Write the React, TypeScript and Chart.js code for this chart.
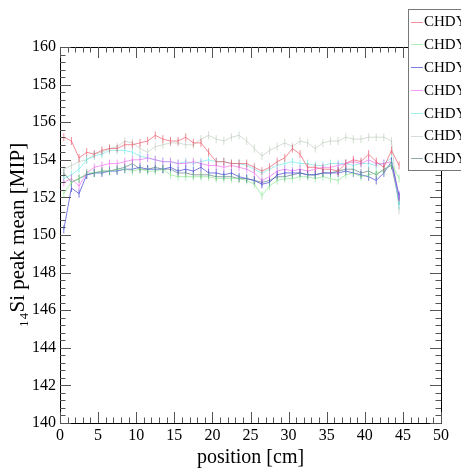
import React, { useEffect, useRef } from "react";
import { Chart, registerables } from "chart.js";

Chart.register(...registerables);

const positions = [0.5, 1.5, 2.5, 3.5, 4.5, 5.5, 6.5, 7.5, 8.5, 9.5, 10.5, 11.5, 12.5, 13.5, 14.5, 15.5, 16.5, 17.5, 18.5, 19.5, 20.5, 21.5, 22.5, 23.5, 24.5, 25.5, 26.5, 27.5, 28.5, 29.5, 30.5, 31.5, 32.5, 33.5, 34.5, 35.5, 36.5, 37.5, 38.5, 39.5, 40.5, 41.5, 42.5, 43.5, 44.5];

const seriesNames = ["CHDY_1", "CHDY_2", "CHDY_3", "CHDY_4", "CHDY_5", "CHDY_6", "CHDY_7"];

const redVals = [155.2, 155.0, 154.1, 154.4, 154.3, 154.5, 154.6, 154.6, 154.8, 154.8, 154.9, 155.0, 155.3, 155.1, 155.0, 155.0, 155.2, 154.9, 154.9, 154.4, 153.9, 153.9, 153.8, 153.8, 153.8, 153.6, 153.4, 153.6, 153.9, 154.1, 154.6, 154.3, 153.6, 153.6, 153.5, 153.5, 153.4, 153.8, 154.0, 153.9, 154.3, 153.9, 153.6, 154.5, 153.7];
const greenVals = [152.2, 152.8, 153.0, 153.3, 153.3, 153.4, 153.4, 153.5, 153.5, 153.4, 153.5, 153.4, 153.4, 153.5, 153.2, 153.1, 153.1, 153.1, 153.1, 153.1, 153.0, 153.0, 153.0, 153.0, 152.9, 152.7, 152.1, 152.6, 152.9, 153.0, 153.0, 153.1, 153.1, 153.0, 153.1, 153.0, 152.9, 153.2, 153.3, 153.1, 153.2, 153.3, 153.4, 153.8, 153.0];
const blueVals = [150.3, 152.5, 152.2, 153.2, 153.3, 153.3, 153.4, 153.4, 153.5, 153.5, 153.6, 153.5, 153.5, 153.5, 153.6, 153.4, 153.5, 153.4, 153.6, 153.3, 153.3, 153.2, 153.3, 153.1, 153.0, 152.9, 152.7, 152.8, 153.2, 153.3, 153.3, 153.3, 153.2, 153.2, 153.3, 153.3, 153.3, 153.4, 153.3, 153.2, 153.1, 152.9, 153.3, 153.9, 152.1];
const magentaVals = [152.8, 153.0, 152.6, 153.3, 153.6, 153.7, 153.8, 153.8, 153.9, 154.0, 154.0, 154.1, 154.0, 153.9, 153.9, 153.8, 153.8, 153.9, 153.8, 153.7, 153.7, 153.6, 153.7, 153.6, 153.5, 153.3, 152.9, 153.1, 153.4, 153.5, 153.4, 153.5, 153.4, 153.5, 153.6, 153.6, 153.7, 153.8, 153.9, 153.8, 154.0, 153.8, 153.8, 153.9, 152.0];
const cyanVals = [153.0, 153.2, 153.5, 154.0, 154.2, 154.3, 154.5, 154.5, 154.5, 154.4, 154.2, 154.1, 154.0, 153.9, 153.9, 153.8, 153.9, 153.8, 153.9, 154.0, 153.9, 153.9, 153.8, 153.8, 153.7, 153.5, 153.3, 153.5, 153.7, 153.8, 153.9, 153.8, 153.8, 153.7, 153.7, 153.8, 153.8, 153.8, 153.7, 153.8, 153.8, 153.7, 153.8, 154.1, 151.6];
const greyVals = [153.5, 153.7, 153.9, 154.0, 154.3, 154.4, 154.6, 154.7, 155.0, 154.9, 154.6, 154.4, 154.7, 154.8, 154.9, 154.9, 154.8, 154.8, 155.1, 155.3, 155.1, 155.0, 155.2, 155.3, 155.0, 154.6, 154.2, 154.5, 154.7, 154.9, 154.7, 155.0, 154.9, 154.6, 154.9, 155.0, 155.0, 155.2, 155.1, 155.1, 155.2, 155.2, 155.2, 155.0, 151.3];
const tealVals = [153.3, 152.8, 153.0, 153.2, 153.3, 153.4, 153.4, 153.5, 153.6, 153.8, 153.5, 153.5, 153.6, 153.5, 153.5, 153.3, 153.3, 153.2, 153.2, 153.2, 153.1, 153.1, 153.1, 153.0, 153.0, 152.9, 152.8, 152.9, 153.1, 153.1, 153.2, 153.3, 153.2, 153.2, 153.3, 153.3, 153.4, 153.5, 153.5, 153.3, 153.4, 153.2, 153.5, 153.7, 151.8];

const allSeries = [redVals, greenVals, blueVals, magentaVals, cyanVals, greyVals, tealVals];
const seriesColors = [
  "rgba(235, 80, 100, 0.65)",
  "rgba(110, 225, 120, 0.55)",
  "rgba(70, 70, 215, 0.7)",
  "rgba(235, 90, 235, 0.6)",
  "rgba(80, 225, 225, 0.55)",
  "rgba(170, 190, 170, 0.5)",
  "rgba(70, 110, 110, 0.6)",
];

const xTickLabels = ["0", "5", "10", "15", "20", "25", "30", "35", "40", "45", "50"];
const yTickLabels = ["140", "142", "144", "146", "148", "150", "152", "154", "156", "158", "160"];

const FONT = "'Liberation Serif', 'Times New Roman', serif";

const framePlugin = {
  id: "rootFrame",
  afterDraw(chart: any) {
    const { ctx, chartArea, scales } = chart;
    const xs = scales.x;
    const ys = scales.y;
    const { left, right, top, bottom } = chartArea;
    ctx.save();
    ctx.strokeStyle = "#000";
    ctx.lineWidth = 1;
    ctx.beginPath();
    ctx.rect(Math.round(left) + 0.5, Math.round(top) + 0.5, Math.round(right - left), Math.round(bottom - top));
    ctx.stroke();
    ctx.strokeStyle = "#555";
    ctx.beginPath();
    for (let k = 0; k <= 50; k++) {
      const px = Math.round(xs.getPixelForValue(k)) + 0.5;
      const len = k % 5 === 0 ? 11 : 5.5;
      ctx.moveTo(px, bottom);
      ctx.lineTo(px, bottom - len);
      ctx.moveTo(px, top);
      ctx.lineTo(px, top + len);
    }
    for (let k = 0; k <= 50; k++) {
      const py = Math.round(ys.getPixelForValue(140 + k * 0.4)) + 0.5;
      const len = k % 5 === 0 ? 11 : 5.5;
      ctx.moveTo(left, py);
      ctx.lineTo(left + len, py);
      ctx.moveTo(right, py);
      ctx.lineTo(right - len, py);
    }
    ctx.stroke();

    // legend box
    const bx = 408.5, by = 9.5, bw = 80, bh = 161;
    ctx.fillStyle = "#fff";
    ctx.fillRect(bx, by, bw, bh);
    ctx.strokeStyle = "#777";
    ctx.strokeRect(bx, by, bw, bh);
    ctx.font = "15px " + FONT;
    ctx.textBaseline = "middle";
    ctx.textAlign = "left";
    chart.data.datasets.forEach((ds: any, i: number) => {
      const cy = 21.5 + i * 22.8;
      ctx.strokeStyle = ds.borderColor;
      ctx.beginPath();
      ctx.moveTo(411, Math.round(cy) + 0.5);
      ctx.lineTo(423, Math.round(cy) + 0.5);
      ctx.stroke();
      ctx.fillStyle = "#000";
      ctx.fillText(ds.label, 424, cy + 1);
    });
    ctx.restore();
  },
};

export default function App() {
  const ref = useRef<HTMLCanvasElement>(null);
  useEffect(() => {
    if (!ref.current) return;
    const datasets = allSeries.map((vals, i) => ({
      label: seriesNames[i],
      data: positions.map((p, j) => ({ x: p, y: vals[j] })),
      borderColor: seriesColors[i],
      backgroundColor: seriesColors[i],
      borderWidth: 1,
      showLine: true,
      pointStyle: "line" as const,
      rotation: 90,
      pointRadius: 4,
      pointBorderWidth: 1,
      tension: 0,
    }));
    const chart = new Chart(ref.current, {
      type: "scatter",
      data: { datasets },
      options: {
        animation: false,
        responsive: false,
        layout: { padding: { top: 47, right: 20, left: 0, bottom: 0 } },
        plugins: { legend: { display: false }, tooltip: { enabled: false } },
        scales: {
          x: {
            type: "linear",
            min: 0,
            max: 50,
            grid: { display: false, drawTicks: false },
            border: { display: false },
            ticks: {
              stepSize: 5,
              padding: 3,
              color: "#000",
              font: { family: FONT, size: 16 },
              callback: (v: any) => xTickLabels[Math.round(Number(v) / 5)] ?? "",
              maxRotation: 0,
            },
            title: {
              display: true,
              text: "position [cm]",
              color: "#000",
              font: { family: FONT, size: 20 },
              padding: { top: 0, bottom: 0 },
            },
            afterFit: (s: any) => {
              s.height = 47;
            },
          },
          y: {
            type: "linear",
            min: 140,
            max: 160,
            grid: { display: false, drawTicks: false },
            border: { display: false },
            ticks: {
              stepSize: 2,
              padding: 4,
              color: "#000",
              font: { family: FONT, size: 16 },
              callback: (v: any) => yTickLabels[Math.round((Number(v) - 140) / 2)] ?? "",
            },
            title: {
              display: true,
              text: "₁₄Si peak mean [MIP]",
              color: "#000",
              font: { family: FONT, size: 21 },
              padding: { top: 6, bottom: 0 },
            },
            afterFit: (s: any) => {
              s.width = 60;
            },
          },
        },
      },
      plugins: [framePlugin],
    });
    return () => chart.destroy();
  }, []);
  return (
    <div style={{ position: "fixed", left: 0, top: 0, width: 461, height: 470, background: "#fff" }}>
      <canvas ref={ref} width={461} height={470} />
    </div>
  );
}
